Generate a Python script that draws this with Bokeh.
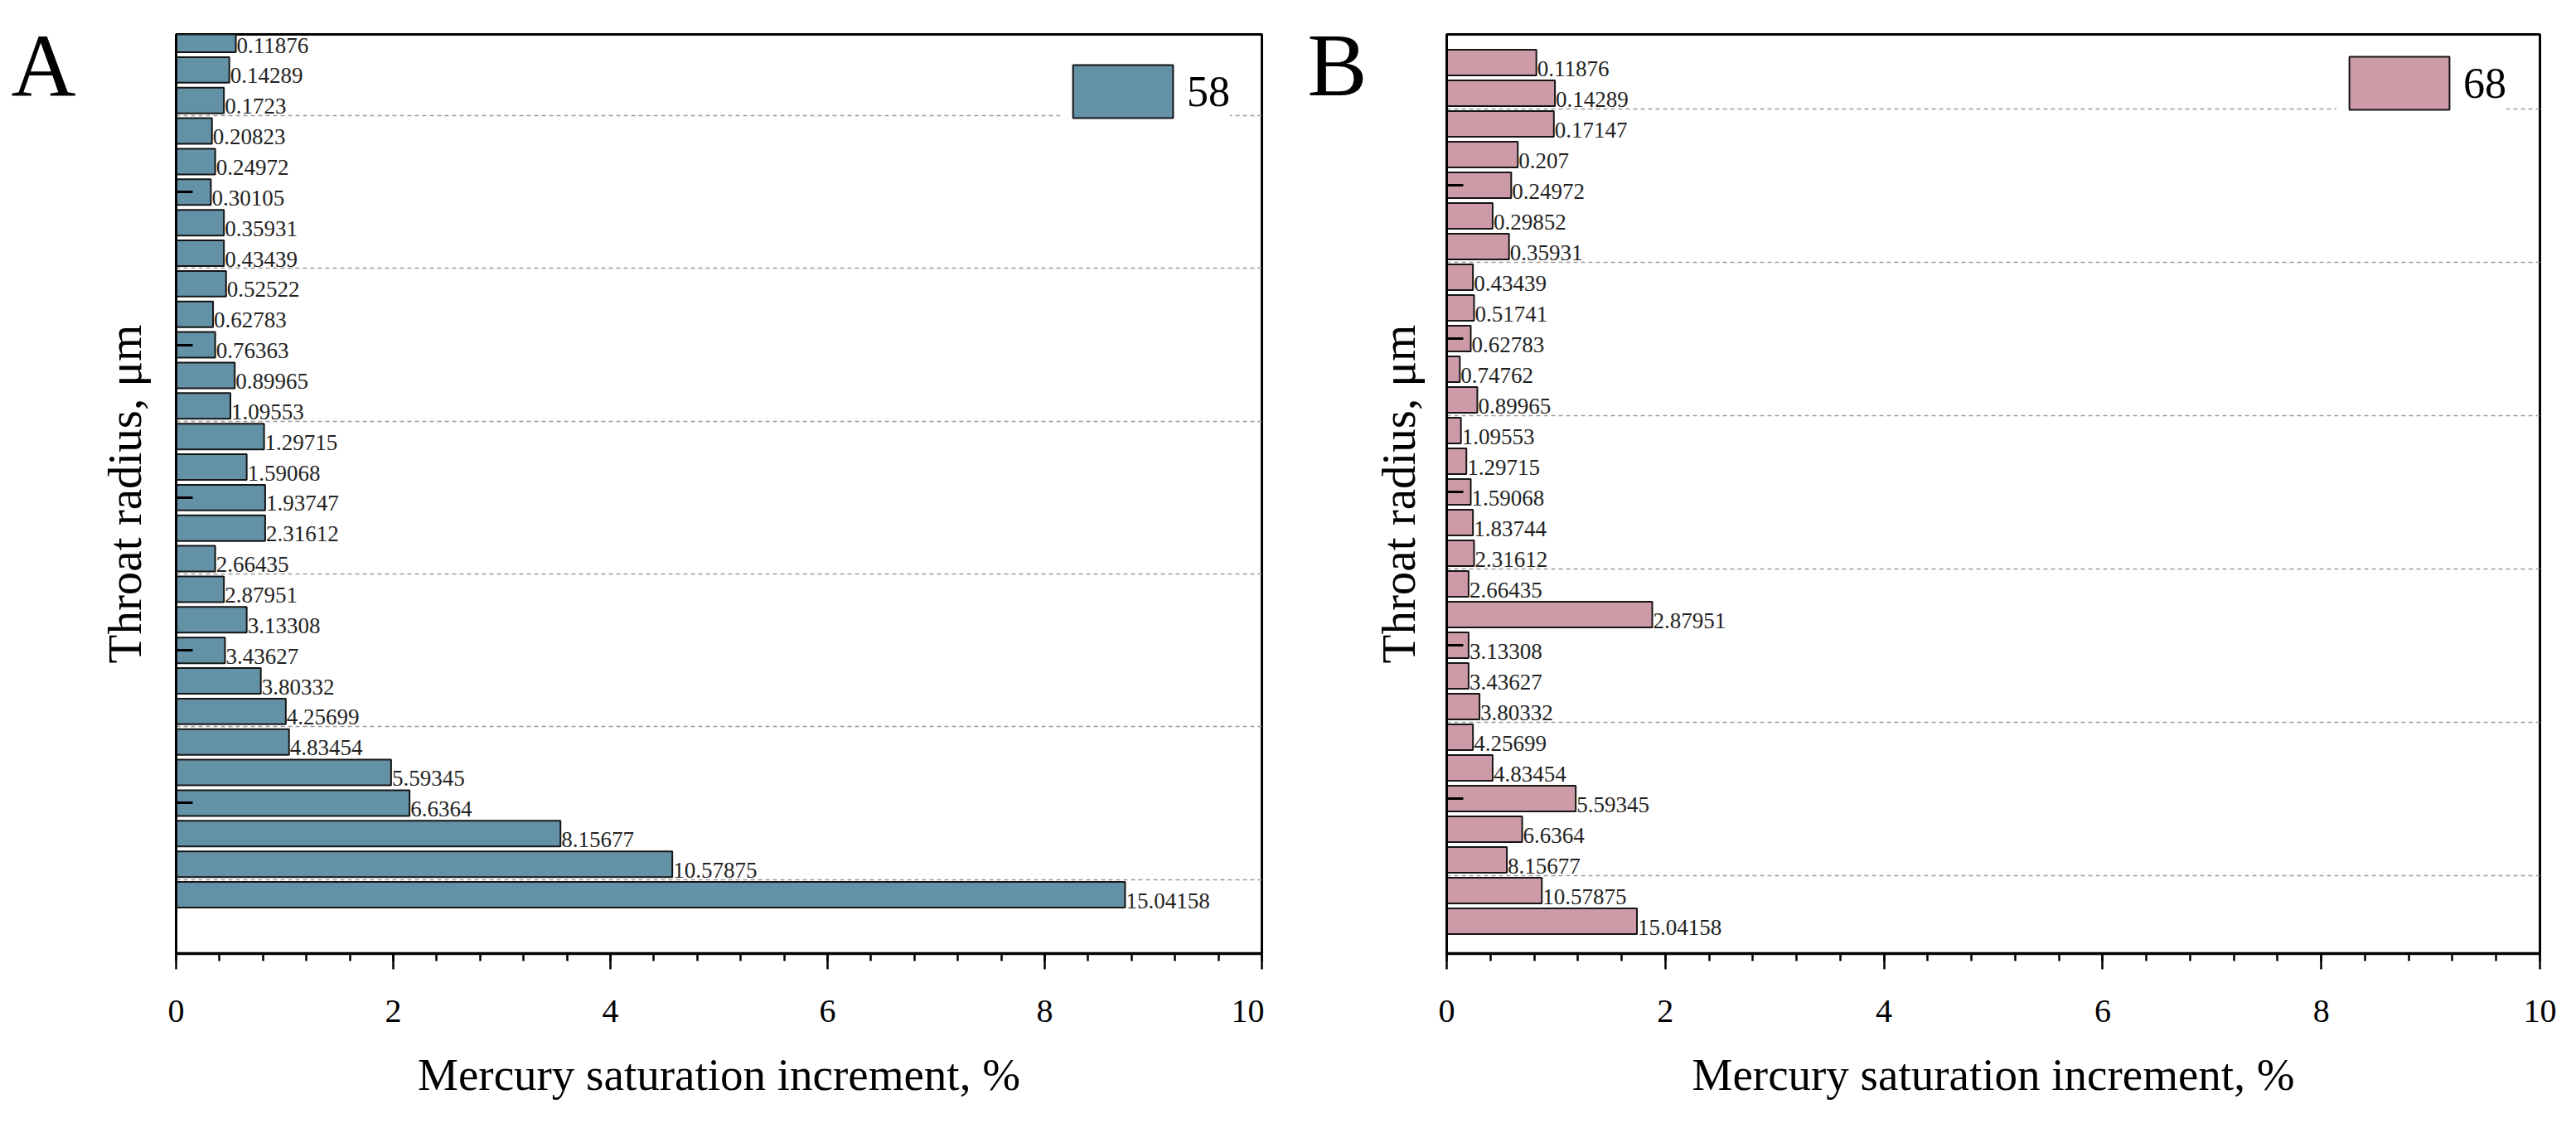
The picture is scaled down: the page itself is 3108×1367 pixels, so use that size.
from bokeh.plotting import figure
from bokeh.models import ColumnDataSource, FixedTicker, SingleIntervalTicker
from bokeh.layouts import row
from bokeh.core.properties import value
from bokeh.embed import file_html
from bokeh.resources import INLINE

# ---------------- data ----------------
radius_A = ["0.11876", "0.14289", "0.1723", "0.20823", "0.24972", "0.30105", "0.35931",
            "0.43439", "0.52522", "0.62783", "0.76363", "0.89965", "1.09553", "1.29715",
            "1.59068", "1.93747", "2.31612", "2.66435", "2.87951", "3.13308", "3.43627",
            "3.80332", "4.25699", "4.83454", "5.59345", "6.6364", "8.15677", "10.57875",
            "15.04158"]
increment_A = [0.55, 0.49, 0.44, 0.33, 0.36, 0.32, 0.44, 0.44, 0.46, 0.34, 0.36, 0.54,
               0.50, 0.81, 0.65, 0.82, 0.82, 0.36, 0.44, 0.65, 0.45, 0.78, 1.01, 1.04,
               1.98, 2.15, 3.54, 4.57, 8.74]
sample_A = "58"

radius_B = ["0.11876", "0.14289", "0.17147", "0.207", "0.24972", "0.29852", "0.35931",
            "0.43439", "0.51741", "0.62783", "0.74762", "0.89965", "1.09553", "1.29715",
            "1.59068", "1.83744", "2.31612", "2.66435", "2.87951", "3.13308", "3.43627",
            "3.80332", "4.25699", "4.83454", "5.59345", "6.6364", "8.15677", "10.57875",
            "15.04158"]
increment_B = [0.82, 0.99, 0.98, 0.65, 0.59, 0.42, 0.57, 0.24, 0.25, 0.22, 0.12, 0.28,
               0.13, 0.18, 0.22, 0.24, 0.25, 0.20, 1.88, 0.20, 0.20, 0.30, 0.24, 0.42,
               1.18, 0.69, 0.55, 0.87, 1.74]
sample_B = "68"

panel_letters = ["A", "B"]
x_ticks_interval = 2
x_max = 10
x_title = "Mercury saturation increment, %"
y_title = "Throat radius, μm"

SERIF = "Liberation Serif"
H = 1366
TOP = 41          # common frame top (page px)
BOT = 1150        # common frame bottom (page px)


def letter_fig(letter, width, lx, ly):
    f = figure(width=width, height=H, x_range=(0, width), y_range=(H - BOT, H - TOP),
               output_backend="svg", toolbar_location=None,
               min_border_left=0, min_border_right=0,
               min_border_top=TOP, min_border_bottom=H - BOT,
               x_axis_location=None, y_axis_location=None)
    f.outline_line_color = None
    f.grid.visible = False
    f.background_fill_color = "white"
    f.border_fill_color = "white"
    src = ColumnDataSource(dict(x=[lx], y=[H - ly], t=[letter]))
    f.text(x="x", y="y", text="t", source=src, text_font=value(SERIF),
           text_font_size="108px", text_color="black", text_baseline="alphabetic",
           text_align="left")
    return f


def panel(radii, vals, sample, color, width, bl, br,
          y_lo, y_hi, tick_start, grid_start, legend_xy, ylab_standoff):
    n = len(radii)
    pos = [n - 1 - i for i in range(n)]
    src = ColumnDataSource(dict(y=pos, v=vals, lbl=radii))

    p = figure(width=width, height=H, x_range=(0, x_max), y_range=(y_lo, y_hi),
               output_backend="svg", toolbar_location=None,
               min_border_left=bl, min_border_right=br,
               min_border_top=TOP, min_border_bottom=H - BOT)
    p.background_fill_color = "white"
    p.border_fill_color = "white"
    p.outline_line_color = "black"
    p.outline_line_width = 3

    p.hbar(y="y", right="v", left=0, height=0.84, source=src,
           fill_color=color, line_color="#151515", line_width=2,
           legend_label=sample)
    p.text(x="v", y="y", text="lbl", source=src,
           text_font=value(SERIF), text_font_size="27px", text_color="#222222",
           text_baseline="middle", text_align="left", x_offset=1, y_offset=7)

    # grids
    p.xgrid.visible = False
    p.ygrid.ticker = FixedTicker(ticks=[grid_start + 5 * k for k in range(6)])
    p.ygrid.grid_line_color = "#9a9a9a"
    p.ygrid.grid_line_dash = "5 4"
    p.ygrid.grid_line_width = 1.5

    # x axis
    xa = p.xaxis[0]
    xa.ticker = SingleIntervalTicker(interval=x_ticks_interval, num_minor_ticks=5)
    xa.axis_line_width = 3.5
    xa.axis_line_color = "black"
    xa.major_tick_out = 19
    xa.major_tick_in = 0
    xa.minor_tick_out = 9
    xa.minor_tick_in = 0
    xa.major_tick_line_width = 2.5
    xa.minor_tick_line_width = 2.5
    xa.major_tick_line_color = "black"
    xa.minor_tick_line_color = "black"
    xa.major_label_text_font = SERIF
    xa.major_label_text_font_size = "40px"
    xa.major_label_text_color = "black"
    xa.major_label_standoff = 37
    xa.axis_label = x_title
    xa.axis_label_text_font = SERIF
    xa.axis_label_text_font_size = "55px"
    xa.axis_label_text_font_style = "normal"
    xa.axis_label_text_color = "black"
    xa.axis_label_standoff = 30

    # y axis: unlabelled inward ticks (as minor ticks, so no tick texts)
    ya = p.yaxis[0]
    ya.ticker = FixedTicker(ticks=[], minor_ticks=[tick_start + 5 * k for k in range(5)])
    ya.major_tick_in = 0
    ya.major_tick_out = 0
    ya.minor_tick_in = 20
    ya.minor_tick_out = 0
    ya.minor_tick_line_width = 3
    ya.minor_tick_line_color = "black"
    ya.axis_line_width = 3
    ya.axis_line_color = "black"
    ya.major_label_standoff = 0
    ya.axis_label = y_title
    ya.axis_label_text_font = SERIF
    ya.axis_label_text_font_size = "57px"
    ya.axis_label_text_font_style = "normal"
    ya.axis_label_text_color = "black"
    ya.axis_label_standoff = ylab_standoff

    lg = p.legend[0]
    lg.location = legend_xy
    lg.margin = 0
    lg.padding = 0
    lg.glyph_width = 151
    lg.glyph_height = 80
    lg.label_standoff = 2
    lg.label_text_font = SERIF
    lg.label_text_font_size = "52px"
    lg.label_text_color = "black"
    lg.label_height = 80
    lg.border_line_alpha = 0
    lg.background_fill_color = "white"
    lg.background_fill_alpha = 1
    return p


lA = letter_fig(panel_letters[0], 110, 13, 79)
pA = panel(radius_A, increment_A, sample_A, "#6391a6",
           width=1415, bl=102, br=3,
           y_lo=-1.926, y_hi=28.163, tick_start=3, grid_start=0.5,
           legend_xy=(1067, 1000), ylab_standoff=31)
lB = letter_fig(panel_letters[1], 126, 52, 78)
pB = panel(radius_B, increment_B, sample_B, "#cd9ba8",
           width=1456, bl=94, br=43,
           y_lo=-1.054, y_hi=28.919, tick_start=4, grid_start=1.5,
           legend_xy=(1074, 1010), ylab_standoff=27)

layout = row(lA, pA, lB, pB)
open("out.html", "w").write(file_html(layout, INLINE))
